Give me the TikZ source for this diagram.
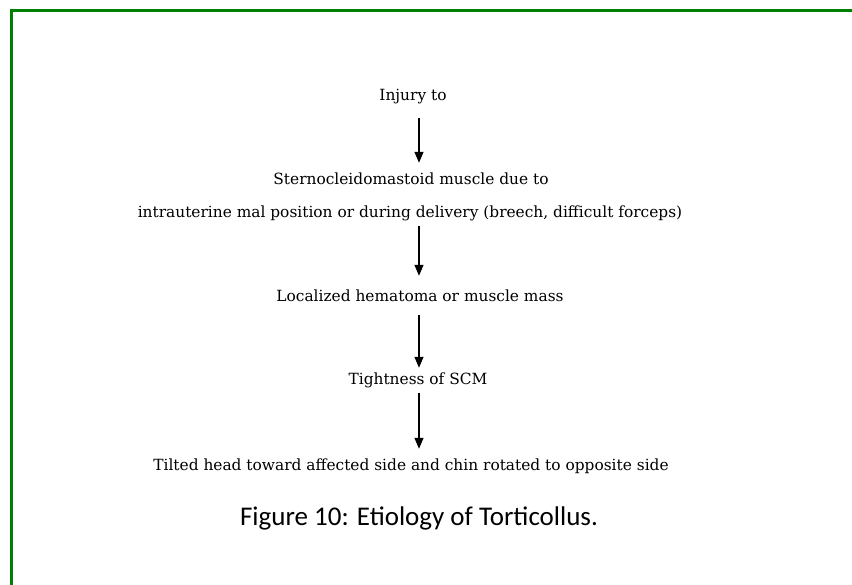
\documentclass[tikz,border=0pt]{standalone}
\usepackage{fontspec}
\setmainfont{DejaVu Serif}
\newfontfamily\capfont{Carlito}
\usetikzlibrary{arrows.meta}
\definecolor{framegreen}{RGB}{0,128,0}
\begin{document}
\begin{tikzpicture}[x=1pt,y=-1pt,
  txt/.style={font=\fontsize{15.4}{18}\selectfont, inner sep=0pt, anchor=center, text height=11pt, text depth=4pt},
  flow/.style={-{Triangle[width=9pt,length=11pt]}, line width=1.2pt, black}]
\useasboundingbox (0,0) rectangle (852,585);
\draw[framegreen, line width=3pt] (11,585) -- (11,11) -- (852,11);
\coordinate (axis) at (419,0);
\node[txt] (a) at (413,97) {Injury to};
\node[txt] (b1) at (411,181) {Sternocleidomastoid muscle due to};
\node[txt] (b2) at (410,214) {intrauterine mal position or during delivery (breech, difficult forceps)};
\node[txt] (c) at (420,298) {Localized hematoma or muscle mass};
\node[txt] (d) at (418,381) {Tightness of SCM};
\node[txt] (e) at (411,467) {Tilted head toward affected side and chin rotated to opposite side};
\node[font=\capfont\fontsize{27}{32}\selectfont, inner sep=0pt] (cap) at (419,518) {Figure 10: Etiology of Torticollus.};
\draw[flow, shorten <=13.5pt, shorten >=10.5pt] (a.south -| axis) -- (b1.north -| axis);
\draw[flow, shorten <=4.5pt, shorten >=14.5pt] (b2.south -| axis) -- (c.north -| axis);
\draw[flow, shorten <=9.5pt, shorten >=5.5pt] (c.south -| axis) -- (d.north -| axis);
\draw[flow, shorten <=4.5pt, shorten >=10.5pt] (d.south -| axis) -- (e.north -| axis);
\end{tikzpicture}
\end{document}
